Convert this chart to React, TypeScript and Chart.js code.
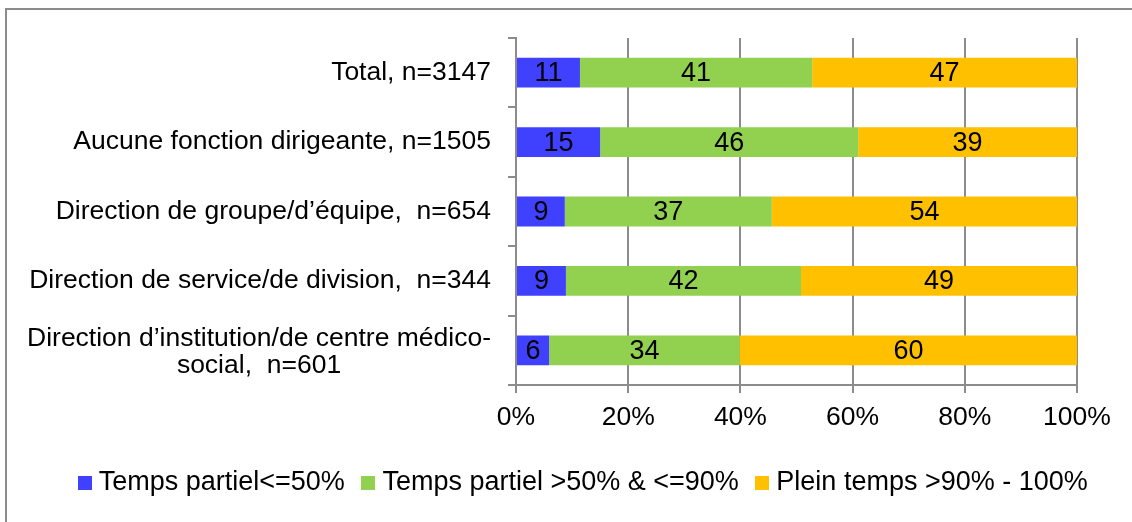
import React, { useEffect, useRef } from "react";
import { Chart, registerables } from "chart.js";

Chart.register(...registerables);

const categories: (string | string[])[] = [
  "Total, n=3147",
  "Aucune fonction dirigeante, n=1505",
  "Direction de groupe/d’équipe,  n=654",
  "Direction de service/de division,  n=344",
  ["Direction d’institution/de centre médico-", "social,  n=601"],
];

const seriesNames = [
  "Temps partiel<=50%",
  "Temps partiel >50% & <=90%",
  "Plein temps >90% - 100%",
];

const partTimeLow = [11.4, 15.0, 8.7, 8.9, 5.9];
const partTimeHigh = [41.4, 46.0, 36.9, 41.9, 34.0];
const fullTime = [47.2, 39.0, 54.4, 49.2, 60.1];

const seriesColors = ["#4040FF", "#92D050", "#FFC000"];

const xTickStep = 20;
const xMax = 100;

const FONT = '"Liberation Sans", Arial, sans-serif';
const FONT_SIZE = 27;
const LABEL_SIZE = 26.5;
const GRID = "#8c8c8c";
const PAD_LEFT = 40;

function makeSwatch(color: string) {
  const c = document.createElement("canvas");
  c.width = 14;
  c.height = 14;
  const g = c.getContext("2d")!;
  g.fillStyle = color;
  g.fillRect(0, 0, 14, 14);
  return c;
}

const framePlugin = {
  id: "frame",
  beforeDraw(chart: any) {
    const ctx = chart.ctx;
    ctx.save();
    ctx.fillStyle = "#fff";
    ctx.fillRect(0, 0, chart.width, chart.height);
    ctx.strokeStyle = GRID;
    ctx.lineWidth = 2;
    ctx.beginPath();
    ctx.moveTo(6, chart.height);
    ctx.lineTo(6, 9);
    ctx.lineTo(chart.width, 9);
    ctx.stroke();
    ctx.restore();
  },
};

const yLabelPlugin = {
  id: "yLabels",
  afterDraw(chart: any) {
    const ctx = chart.ctx;
    const y = chart.scales.y;
    const xRight = y.right - 8 - 17;
    ctx.save();
    ctx.font = `${LABEL_SIZE}px ${FONT}`;
    ctx.fillStyle = "#000";
    ctx.textBaseline = "middle";
    categories.forEach((lab, i) => {
      const py = y.getPixelForValue(i);
      if (Array.isArray(lab)) {
        const widths = lab.map((l) => ctx.measureText(l).width);
        const maxW = Math.max(...widths);
        const cx = xRight - maxW / 2;
        const lh = 27;
        ctx.textAlign = "center";
        lab.forEach((l, j) => {
          ctx.fillText(l, cx, py + 2 + (j - (lab.length - 1) / 2) * lh);
        });
      } else {
        ctx.textAlign = "right";
        ctx.fillText(lab, xRight, py);
      }
    });
    ctx.restore();
  },
};

const valueLabelPlugin = {
  id: "valueLabels",
  afterDatasetsDraw(chart: any) {
    const ctx = chart.ctx;
    ctx.save();
    ctx.font = `${FONT_SIZE}px ${FONT}`;
    ctx.fillStyle = "#000";
    ctx.textAlign = "center";
    ctx.textBaseline = "middle";
    chart.data.datasets.forEach((ds: any, di: number) => {
      const meta = chart.getDatasetMeta(di);
      meta.data.forEach((bar: any, i: number) => {
        const v = ds.data[i];
        const cx = (bar.x + bar.base) / 2;
        ctx.fillText(String(Math.round(v)), cx, bar.y + 1);
      });
    });
    ctx.restore();
  },
};

export default function App() {
  const ref = useRef<HTMLCanvasElement>(null);

  useEffect(() => {
    if (!ref.current) return;
    Chart.defaults.font.family = FONT;
    const swatches = seriesColors.map(makeSwatch);
    const chart = new Chart(ref.current, {
      type: "bar",
      data: {
        labels: categories,
        datasets: [partTimeLow, partTimeHigh, fullTime].map((d, i) => ({
          label: seriesNames[i],
          data: d,
          backgroundColor: seriesColors[i],
          borderWidth: 0,
          barPercentage: 0.43,
          categoryPercentage: 1,
        })),
      },
      options: {
        indexAxis: "y",
        animation: false,
        responsive: true,
        maintainAspectRatio: false,
        layout: { padding: { top: 38, right: 0, left: PAD_LEFT, bottom: 16 } },
        scales: {
          x: {
            stacked: true,
            min: 0,
            max: xMax,
            ticks: {
              stepSize: xTickStep,
              callback: (v: any) => `${v}%`,
              font: { size: LABEL_SIZE, family: FONT },
              color: "#000",
              padding: 9,
            },
            grid: { color: GRID, lineWidth: 2, tickLength: 8 },
            border: { color: GRID, width: 2 },
            afterFit: (s: any) => {
              s.height = 61;
            },
          },
          y: {
            stacked: true,
            ticks: { display: false },
            grid: {
              offset: true,
              drawOnChartArea: false,
              color: GRID,
              lineWidth: 2,
              tickLength: 8,
            },
            border: { color: GRID, width: 2 },
            afterFit: (s: any) => {
              s.width = 516 - PAD_LEFT;
            },
          },
          yRightSpace: {
            type: "category",
            axis: "y",
            position: "right",
            grid: { display: false },
            border: { display: false },
            ticks: { display: false },
            afterFit: (s: any) => {
              s.width = 55;
            },
          },
        },
        plugins: {
          legend: {
            position: "bottom",
            labels: {
              usePointStyle: true,
              pointStyleWidth: 1,
              boxHeight: 14,
              color: "#000",
              padding: 23,
              font: { size: FONT_SIZE, family: FONT },
              generateLabels: (ch: any) =>
                Chart.defaults.plugins.legend.labels
                  .generateLabels(ch)
                  .map((item: any, i: number) => ({ ...item, pointStyle: swatches[i] })),
            },
          },
          tooltip: { enabled: false },
        },
      },
      plugins: [framePlugin, yLabelPlugin, valueLabelPlugin],
    });
    return () => chart.destroy();
  }, []);

  return (
    <div style={{ position: "absolute", left: 0, top: 0, width: 1132, height: 522 }}>
      <canvas ref={ref} />
    </div>
  );
}
